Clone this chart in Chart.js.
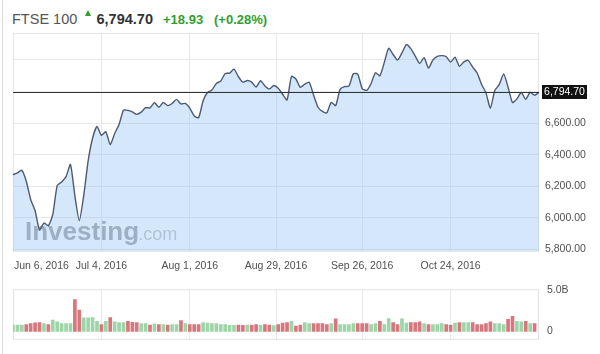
<!DOCTYPE html>
<html>
<head>
<meta charset="utf-8">
<script src="https://cdn.jsdelivr.net/npm/chart.js@4.4.1/dist/chart.umd.min.js"></script>
<style>
  body { margin:0; width:600px; height:354px; background:#fff; position:relative; overflow:hidden; font-family: Arial, "Liberation Sans", sans-serif; }
  .hd { position:absolute; white-space:nowrap; line-height:1; }
  #name { left:12px; top:11.7px; font-size:14.5px; color:#555; }
  #arrow { position:absolute; left:85px; top:10px; width:0; height:0; border-left:3.5px solid transparent; border-right:3.5px solid transparent; border-bottom:6px solid #2f9f2f; }
  #last { left:96.5px; top:11.7px; font-size:14.5px; font-weight:bold; color:#333; }
  #chg { left:163px; top:13px; font-size:13px; font-weight:bold; color:#2f9f2f; }
  #pct { left:214px; top:13px; font-size:13px; font-weight:bold; color:#2f9f2f; }
  #edge { position:absolute; left:2px; top:0; width:1px; height:354px; background:#dcdcdc; }
  #price { position:absolute; left:0; top:0; }
  #vol { position:absolute; left:0; top:275px; }
</style>
</head>
<body>
<div id="edge"></div>
<span class="hd" id="name">FTSE 100</span>
<span id="arrow"></span>
<span class="hd" id="last"></span>
<span class="hd" id="chg"></span>
<span class="hd" id="pct"></span>
<canvas id="price" width="600" height="275"></canvas>
<canvas id="vol" width="600" height="79"></canvas>
<script>
// daily closes, Jun 6 2016 .. Nov 21 2016 (trading days)
const closes = [
  6273, 6285, 6301, 6232, 6116, 6045, 5923, 5967, 5950, 6021,
  6204, 6227, 6261, 6338, 6139, 5982, 6141, 6360, 6504, 6578,
  6522, 6545, 6463, 6534, 6591, 6682, 6680, 6670, 6655, 6669,
  6697, 6696, 6728, 6700, 6730, 6710, 6724, 6750, 6721, 6724,
  6694, 6645, 6634, 6740, 6793, 6809, 6851, 6866, 6914, 6916,
  6941, 6893, 6859, 6869, 6859, 6828, 6868, 6835, 6816, 6838,
  6820, 6782, 6746, 6895, 6879, 6826, 6846, 6859, 6777, 6700,
  6674, 6665, 6731, 6710, 6813, 6830, 6834, 6912, 6910, 6818,
  6807, 6849, 6919, 6899, 6984, 7074, 7034, 6999, 7044, 7097,
  7071, 7024, 6977, 7014, 6948, 7000, 7022, 7027, 7020, 6986,
  7017, 6959, 6987, 6996, 6954, 6917, 6846, 6791, 6694, 6806,
  6843, 6911, 6828, 6730, 6753, 6793, 6750, 6795, 6775.77, 6794.70
];
// volume in billions (last day has no bar yet)
const volumes = [
  0.77, 0.77, 0.77, 0.83, 0.93, 1.02, 1.05, 0.95, 0.83, 1.36,
  1.14, 0.93, 0.93, 0.93, 3.86, 2.59, 1.64, 1.64, 1.67, 1.20,
  0.83, 1.20, 1.67, 1.14, 1.05, 1.05, 1.20, 1.08, 1.05, 0.93,
  0.93, 0.77, 0.90, 0.83, 0.83, 0.77, 0.83, 0.83, 1.30, 0.93,
  0.83, 0.83, 0.83, 1.05, 0.99, 0.93, 0.93, 0.83, 0.83, 0.74,
  0.74, 0.77, 0.74, 0.77, 0.77, 0.83, 0.77, 0.83, 0.77, 0.68,
  0.83, 0.99, 1.05, 1.20, 0.62, 0.77, 1.05, 0.93, 0.93, 0.93,
  0.93, 0.83, 0.93, 1.51, 0.83, 0.83, 0.83, 0.93, 0.93, 0.93,
  0.93, 0.83, 0.93, 1.20, 0.83, 1.54, 1.05, 0.83, 1.51, 0.99,
  1.05, 1.05, 1.14, 0.93, 0.83, 0.83, 0.83, 0.93, 0.83, 0.77,
  0.99, 1.05, 1.05, 1.05, 1.05, 0.83, 0.83, 0.93, 1.14, 0.93,
  0.93, 0.83, 1.45, 1.82, 1.20, 1.14, 1.20, 0.93, 0.93, null
];
const xTickLabels = ['Jun 6, 2016', 'Jul 4, 2016', 'Aug 1, 2016', 'Aug 29, 2016', 'Sep 26, 2016', 'Oct 24, 2016'];
const xTickIndex = [0, 20, 40, 59.5, 79, 99];
const priceTicks = [5800, 6000, 6200, 6400, 6600, 6800, 7000];
const volTicks = [0, 5];

const FONT = 'Arial, "Liberation Sans", sans-serif';
const fmt = v => v.toLocaleString('en-US', { minimumFractionDigits: 2, maximumFractionDigits: 2 });

const last = closes[closes.length - 1];
const prev = closes[closes.length - 2];
const chg = last - prev;
document.getElementById('last').textContent = fmt(last);
document.getElementById('chg').textContent = (chg >= 0 ? '+' : '') + chg.toFixed(2);
document.getElementById('pct').textContent = '(' + (chg >= 0 ? '+' : '') + (chg / prev * 100).toFixed(2) + '%)';

const priceExtras = {
  id: 'priceExtras',
  beforeDatasetsDraw(chart) {
    const { ctx, chartArea: a } = chart;
    ctx.save();
    ctx.strokeStyle = '#e6e6e6';
    ctx.lineWidth = 1;
    ctx.strokeRect(a.left + 0.5, a.top + 0.5, a.right - a.left - 1, a.bottom - a.top);
    // watermark
    ctx.textBaseline = 'alphabetic';
    ctx.textAlign = 'left';
    ctx.font = 'bold 26px ' + FONT;
    ctx.fillStyle = '#a2a2a2';
    ctx.fillText('Investing', a.left + 12, a.bottom - 11);
    const w = ctx.measureText('Investing').width;
    ctx.font = '18px ' + FONT;
    ctx.fillStyle = '#c4c4c4';
    ctx.fillText('.com', a.left + 11 + w, a.bottom - 11);
    ctx.restore();
  },
  afterDraw(chart) {
    const { ctx, chartArea: a } = chart;
    const y = Math.round(chart.scales.y.getPixelForValue(last)) + 0.5;
    ctx.save();
    ctx.strokeStyle = '#333';
    ctx.lineWidth = 1.2;
    ctx.beginPath();
    ctx.moveTo(a.left, y);
    ctx.lineTo(a.right, y);
    ctx.stroke();
    ctx.fillStyle = '#111';
    ctx.fillRect(a.right + 3, y - 7.5, 45, 14);
    ctx.fillStyle = '#fff';
    ctx.font = '10.5px ' + FONT;
    ctx.textAlign = 'center';
    ctx.textBaseline = 'middle';
    ctx.fillText(fmt(last), a.right + 25.5, y);
    // date labels
    const xs = chart.scales.x;
    ctx.fillStyle = '#505050';
    ctx.textAlign = 'left';
    xTickLabels.forEach((t, i) => {
      const x = xs.getPixelForValue(xTickIndex[i]);
      const tw = ctx.measureText(t).width;
      ctx.fillText(t, Math.max(x - tw / 2, a.left + 1), a.bottom + 15);
    });
    ctx.restore();
  }
};

new Chart(document.getElementById('price'), {
  type: 'line',
  data: {
    datasets: [{
      data: closes.map((v, i) => ({ x: i, y: v })),
      borderColor: '#4e5a70',
      borderWidth: 1.4,
      backgroundColor: 'rgba(150,195,245,0.4)',
      fill: 'start',
      pointRadius: 0,
      tension: 0.2
    }]
  },
  options: {
    responsive: false,
    animation: false,
    layout: { padding: { left: 13, top: 33, bottom: 24, right: 0 } },
    plugins: { legend: { display: false }, tooltip: { enabled: false } },
    scales: {
      x: {
        type: 'linear', min: 0, max: closes.length - 1,
        afterBuildTicks: s => { s.ticks = xTickIndex.map(v => ({ value: v })); },
        ticks: { display: false },
        grid: { color: '#e8e8e8', drawTicks: false },
        border: { display: false },
        afterFit: s => { s.height = 0; }
      },
      y: {
        position: 'right', min: 5790, max: 7170,
        afterBuildTicks: s => { s.ticks = priceTicks.map(v => ({ value: v })); },
        ticks: { padding: 6, color: '#505050', font: { family: FONT, size: 10.5 }, callback: v => v <= 6600 ? fmt(v) : '' },
        grid: { color: '#e8e8e8', drawTicks: false },
        border: { display: false },
        afterFit: s => { s.width = 61; }
      }
    }
  },
  plugins: [priceExtras]
});

const volFrame = {
  id: 'volFrame',
  beforeDatasetsDraw(chart) {
    const { ctx, chartArea: a } = chart;
    ctx.save();
    ctx.strokeStyle = '#e3e3e3';
    ctx.strokeRect(a.left + 0.5, a.top + 0.5, a.right - a.left - 1, a.bottom - a.top - 1);
    ctx.restore();
  }
};

new Chart(document.getElementById('vol'), {
  type: 'bar',
  data: {
    datasets: [{
      data: volumes.map((v, i) => ({ x: i, y: v })),
      backgroundColor: closes.map((c, i) => (i === 0 || c >= closes[i - 1]) ? '#9dd5a8' : '#d8767d'),
      barThickness: 3
    }]
  },
  options: {
    responsive: false,
    animation: false,
    layout: { padding: { left: 13, top: 2, bottom: 11, right: 0 } },
    plugins: { legend: { display: false }, tooltip: { enabled: false } },
    scales: {
      x: {
        type: 'linear', min: 0, max: closes.length - 1, offset: false,
        afterBuildTicks: s => { s.ticks = xTickIndex.map(v => ({ value: v })); },
        ticks: { display: false },
        grid: { color: '#e8e8e8', drawTicks: false, offset: false },
        border: { display: false },
        afterFit: s => { s.height = 0; }
      },
      y: {
        position: 'right', min: -1.02, max: 5.1,
        afterBuildTicks: s => { s.ticks = volTicks.map(v => ({ value: v })); },
        ticks: { padding: 8, color: '#505050', font: { family: FONT, size: 10.5 }, callback: v => v === 0 ? '0' : v.toFixed(1) + 'B' },
        grid: { display: false, drawTicks: false },
        border: { display: false },
        afterFit: s => { s.width = 61; }
      }
    }
  },
  plugins: [volFrame]
});
</script>
</body>
</html>
